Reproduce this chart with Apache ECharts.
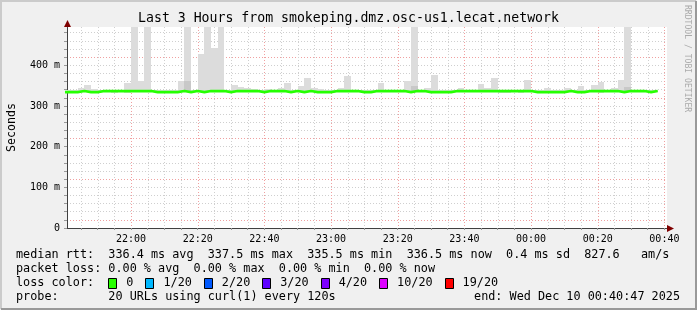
<!DOCTYPE html>
<html><head><meta charset="utf-8">
<script src="https://cdn.jsdelivr.net/npm/echarts@6/dist/echarts.min.js"></script>
<style>html,body{margin:0;padding:0;background:#f0f0f0}#c{width:697px;height:310px}</style>
</head><body><div id="c"></div>
<script>
// ---------------- data ----------------
const titleText = 'Last 3 Hours from smokeping.dmz.osc-us1.lecat.network';
const windowStart = '21:40:47';
const windowEnd = '00:40:47';
const slotStart = '21:40';
const slotMinutes = 2;
const tickLabels = ['22:00','22:20','22:40','23:00','23:20','23:40','00:00','00:20','00:40'];
const yTickLabelsMs = [0, 100, 200, 300, 400];

// median rtt per 2-minute slot (ms)
const medianMs = [
  334, 334, 336.5, 334, 334, 336.5, 336.5, 336.5, 336.5, 336.5,
  336.5, 336.5, 336.5, 334, 334, 334, 334, 336.5, 334, 336.5,
  334, 336.5, 336.5, 336.5, 334, 336.5, 336.5, 336.5, 336.5, 334,
  336.5, 336.5, 336.5, 334, 336.5, 334, 336.5, 334, 334, 334,
  336.5, 336.5, 336.5, 336.5, 334, 334, 336.5, 336.5, 336.5, 336.5,
  336.5, 334, 336.5, 336.5, 334, 334, 334, 334, 336.5, 336.5,
  336.5, 336.5, 336.5, 336.5, 336.5, 336.5, 336.5, 336.5, 336.5, 336.5,
  334, 334, 334, 334, 334, 336.5, 334, 334, 336.5, 336.5,
  336.5, 336.5, 336.5, 334, 336.5, 336.5, 336.5, 334, 336.5
];
// smoke: lowest ping per slot (ms)
const smokeLowMs = [
  334, 334, 334, 334, 334, 334, 334, 331, 334, 331,
  334, 334, 334, 334, 334, 334, 334, 334, 334, 334,
  334, 334, 334, 334, 334, 334, 334, 334, 334, 334,
  334, 334, 334, 334, 334, 334, 334, 334, 334, 334,
  334, 334, 334, 334, 334, 334, 334, 334, 334, 334,
  334, 334, 334, 334, 334, 334, 334, 334, 334, 334,
  334, 334, 334, 334, 334, 331, 331, 334, 331, 334,
  334, 334, 334, 334, 334, 334, 334, 334, 334, 334,
  331, 334, 334, 334, 334, 334, 334, 334, 334
];
// smoke: highest ping per slot (ms)
const smokeHighMs = [
  338, 338, 345, 352, 341, 338, 338, 338, 338, 357,
  494, 361, 494, 338, 338, 338, 338, 362, 494, 338,
  427, 494, 443, 494, 338, 352, 347, 344, 341, 338,
  341, 338, 345, 357, 338, 350, 369, 345, 341, 338,
  338, 345, 374, 338, 338, 338, 338, 357, 338, 338,
  338, 361, 494, 338, 345, 377, 338, 340, 338, 345,
  338, 338, 355, 345, 369, 338, 338, 338, 338, 364,
  338, 338, 345, 338, 338, 345, 338, 350, 338, 352,
  360, 338, 343, 364, 494, 338, 338, 338, 338
];
// smoke: upper edge of the dense (darker) band, null = none
const smokeCoreMs = [
  null, null, null, null, null, null, null, null, null, null,
  null, null, null, null, null, null, null, null, 362, null,
  null, null, null, null, null, null, null, null, null, null,
  null, null, null, null, null, null, null, null, null, null,
  null, null, null, null, null, null, null, null, null, null,
  null, null, 348, null, null, null, null, null, null, null,
  null, null, null, null, null, null, null, null, null, null,
  null, null, null, null, null, null, null, null, null, null,
  null, null, null, null, 346, null, null, null, null
];

const lossLabels = ['0', '1/20', '2/20', '3/20', '4/20', '10/20', '19/20'];
const lossColors = ['#26ff00', '#00b8ff', '#0059ff', '#5e00ff', '#7e00ff', '#dd00ff', '#ff0000'];

const legendLine1 = 'median rtt:  336.4 ms avg  337.5 ms max  335.5 ms min  336.5 ms now  0.4 ms sd  827.6   am/s';
const legendLine2 = 'packet loss: 0.00 % avg  0.00 % max  0.00 % min  0.00 % now';
const legendLine3 = 'loss color:';
const legendLine4 = 'probe:       20 URLs using curl(1) every 120s';
const legendEnd = 'end: Wed Dec 10 00:40:47 2025';
const sideText = 'RRDTOOL / TOBI OETIKER';

// ---------------- helpers ----------------
function toMin(s) {
  const p = s.split(':').map(Number);
  let m = p[0] * 60 + p[1] + (p[2] || 0) / 60;
  if (p[0] < 12) m += 1440;
  return m - 22 * 60;
}
const X_MIN = toMin(windowStart), X_MAX = toMin(windowEnd);
const Y_MIN = 0, Y_MAX = 494;
const slot0 = toMin(slotStart);
const FONT = '"DejaVu Sans Mono", monospace';
const FS = 11.8;      // legend font
const AFS = 10;       // axis label font
const GREY = '#cfcfcf', RED = '#f0a0a0';
const SMOKE = '#dcdcdc', SMOKE_DARK = '#c8c8c8';

const smokeData = smokeHighMs.map((hi, k) => [slot0 + k * slotMinutes, smokeLowMs[k], hi,
  smokeCoreMs[k] == null ? smokeLowMs[k] : smokeCoreMs[k]]);
const medianData = medianMs.map((v, k) => [slot0 + k * slotMinutes, v]);
medianData.push([slot0 + medianMs.length * slotMinutes, medianMs[medianMs.length - 1]]);
const tickValues = tickLabels.map(toMin);
const gridMinutes = [];
for (let t = Math.ceil(X_MIN / 5) * 5; t <= X_MAX; t += 5) gridMinutes.push([t]);

const chart = echarts.init(document.getElementById('c'), null, {renderer: 'canvas', width: 697, height: 310});

function renderSmoke(params, api) {
  const t = api.value(0), lo = api.value(1), hi = api.value(2), core = api.value(3);
  const cs = params.coordSys;
  const children = [];
  const mk = (a, b, color) => {
    const p0 = api.coord([t, b]);
    const p1 = api.coord([t + slotMinutes, a]);
    const x0 = Math.round(p0[0]), x1 = Math.round(p1[0]);
    const y0 = Math.round(p0[1]), y1 = Math.round(p1[1]);
    const r = echarts.graphic.clipRectByRect(
      {x: x0, y: y0, width: x1 - x0, height: y1 - y0},
      {x: cs.x, y: cs.y, width: cs.width, height: cs.height});
    if (r) children.push({type: 'rect', shape: r, style: {fill: color}});
  };
  mk(lo, hi, SMOKE);
  if (core > lo) mk(lo, core, SMOKE_DARK);
  return {type: 'group', children};
}

function renderVGrid(params, api) {
  const t = api.value(0);
  const p0 = api.coord([t, Y_MIN]);
  const p1 = api.coord([t, Y_MAX]);
  const x = Math.round(p0[0]) + 0.5;
  const major = Math.abs(t % 20) < 1e-6;
  return {type: 'line', shape: {x1: x, y1: p1[1], x2: x, y2: p0[1]},
    style: {stroke: major ? RED : GREY, lineWidth: 1, lineDash: [1, 2]}};
}

const option = {
  animation: false,
  backgroundColor: '#f0f0f0',
  title: {
    text: titleText, left: 'center', top: 12, padding: 0,
    textStyle: {fontFamily: FONT, fontSize: 13.2, fontWeight: 'normal', color: '#000'}
  },
  grid: {left: 67, top: 27, width: 600, height: 201, show: true, backgroundColor: '#ffffff',
    borderWidth: 0, containLabel: false, outerBoundsMode: 'none'},
  xAxis: {
    type: 'value', min: X_MIN, max: X_MAX,
    axisLine: {show: true, onZero: false, lineStyle: {color: '#404040', width: 1}},
    axisTick: {show: true, customValues: gridMinutes.map(d => d[0]), length: 2, lineStyle: {color: '#999'}},
    axisLabel: {
      customValues: tickValues, margin: 6,
      formatter: v => { const i = tickValues.findIndex(t => Math.abs(t - v) < 1e-6); return i >= 0 ? tickLabels[i] : ''; },
      fontFamily: FONT, fontSize: AFS, color: '#000'
    },
    splitLine: {show: false}
  },
  yAxis: {
    type: 'value', min: Y_MIN, max: Y_MAX, interval: 20,
    name: 'Seconds', nameLocation: 'middle', nameGap: 49, nameRotate: 90, nameMoveOverlap: false,
    nameTextStyle: {fontFamily: FONT, fontSize: 11.6, color: '#000'},
    axisLine: {show: true, onZero: false, lineStyle: {color: '#404040', width: 1}},
    axisTick: {show: true, length: 3, lineStyle: {color: '#999'}},
    axisLabel: {
      margin: 7, fontFamily: FONT, fontSize: AFS, color: '#000',
      showMaxLabel: false,
      formatter: v => yTickLabelsMs.includes(v) ? (v === 0 ? '0' : v + ' m') : ''
    },
    splitLine: {show: true, showMaxLine: false, showMinLine: false,
      lineStyle: {color: [RED, GREY, GREY, GREY, GREY], type: [1, 2], width: 1}}
  },
  series: [
    {type: 'custom', name: 'vgrid', z: 1, silent: true, data: gridMinutes, encode: {x: 0}, renderItem: renderVGrid, clip: true},
    {type: 'custom', name: 'smoke', z: 2, silent: true, data: smokeData, encode: {x: 0, y: [1, 2]}, renderItem: renderSmoke},
    {type: 'line', name: 'median', z: 3, data: medianData, step: 'end', showSymbol: false, silent: true,
      lineStyle: {color: '#26ff00', width: 2.6}, clip: true}
  ]
};
chart.setOption(option);

// --------- decorations (legend text, frame, arrows) ---------
const ctx = document.createElement('canvas').getContext('2d');
ctx.font = FS + 'px ' + FONT;
const cw = ctx.measureText('0').width;

const origin = chart.convertToPixel({xAxisIndex: 0, yAxisIndex: 0}, [X_MIN, Y_MIN]);
const topLeft = chart.convertToPixel({xAxisIndex: 0, yAxisIndex: 0}, [X_MIN, Y_MAX]);
const botRight = chart.convertToPixel({xAxisIndex: 0, yAxisIndex: 0}, [X_MAX, Y_MIN]);
const ax = Math.round(origin[0]) + 0.5, ay = Math.round(origin[1]) + 0.5;

const txt = (text, x, y, extra) => Object.assign({type: 'text', x, y, silent: true,
  style: {text, fontFamily: FONT, fontSize: FS, fill: '#000', align: 'left', verticalAlign: 'middle'}}, extra || {});

const graphics = [
  {type: 'polyline', silent: true, shape: {points: [[1, 309], [1, 1], [696, 1]]}, style: {stroke: '#cbcbcb', lineWidth: 2, fill: null}},
  {type: 'polyline', silent: true, shape: {points: [[1, 309], [696, 309], [696, 1]]}, style: {stroke: '#999999', lineWidth: 2, fill: null}},
  {type: 'polygon', silent: true, z: 10, shape: {points: [[ax - 3.5, topLeft[1]], [ax + 3.5, topLeft[1]], [ax, topLeft[1] - 7]]}, style: {fill: '#7f0000'}},
  {type: 'polygon', silent: true, z: 10, shape: {points: [[botRight[0], ay - 3.5], [botRight[0], ay + 3.5], [botRight[0] + 7, ay]]}, style: {fill: '#7f0000'}},
  {type: 'text', silent: true, x: 687, y: 5, rotation: -Math.PI / 2,
    style: {text: sideText, fontFamily: FONT, fontSize: 8.1, fill: '#aaaaaa', align: 'left', verticalAlign: 'middle'}},
  txt(legendLine1, 16, 255),
  txt(legendLine2, 16, 269),
  txt(legendLine3, 16, 283),
  txt(legendLine4, 16, 297),
  txt(legendEnd, 680, 297, {style: {text: legendEnd, fontFamily: FONT, fontSize: FS, fill: '#000', align: 'right', verticalAlign: 'middle'}})
];
let lx = 16 + 13 * cw;
lossLabels.forEach((lab, i) => {
  graphics.push({type: 'rect', silent: true, shape: {x: Math.round(lx) + 0.5, y: 278.5, width: 8, height: 10},
    style: {fill: lossColors[i], stroke: '#000', lineWidth: 1}});
  graphics.push(txt(lab, lx + 18, 283));
  lx += 18 + lab.length * cw + 12;
});
chart.setOption({graphic: graphics});
</script>
</body></html>
